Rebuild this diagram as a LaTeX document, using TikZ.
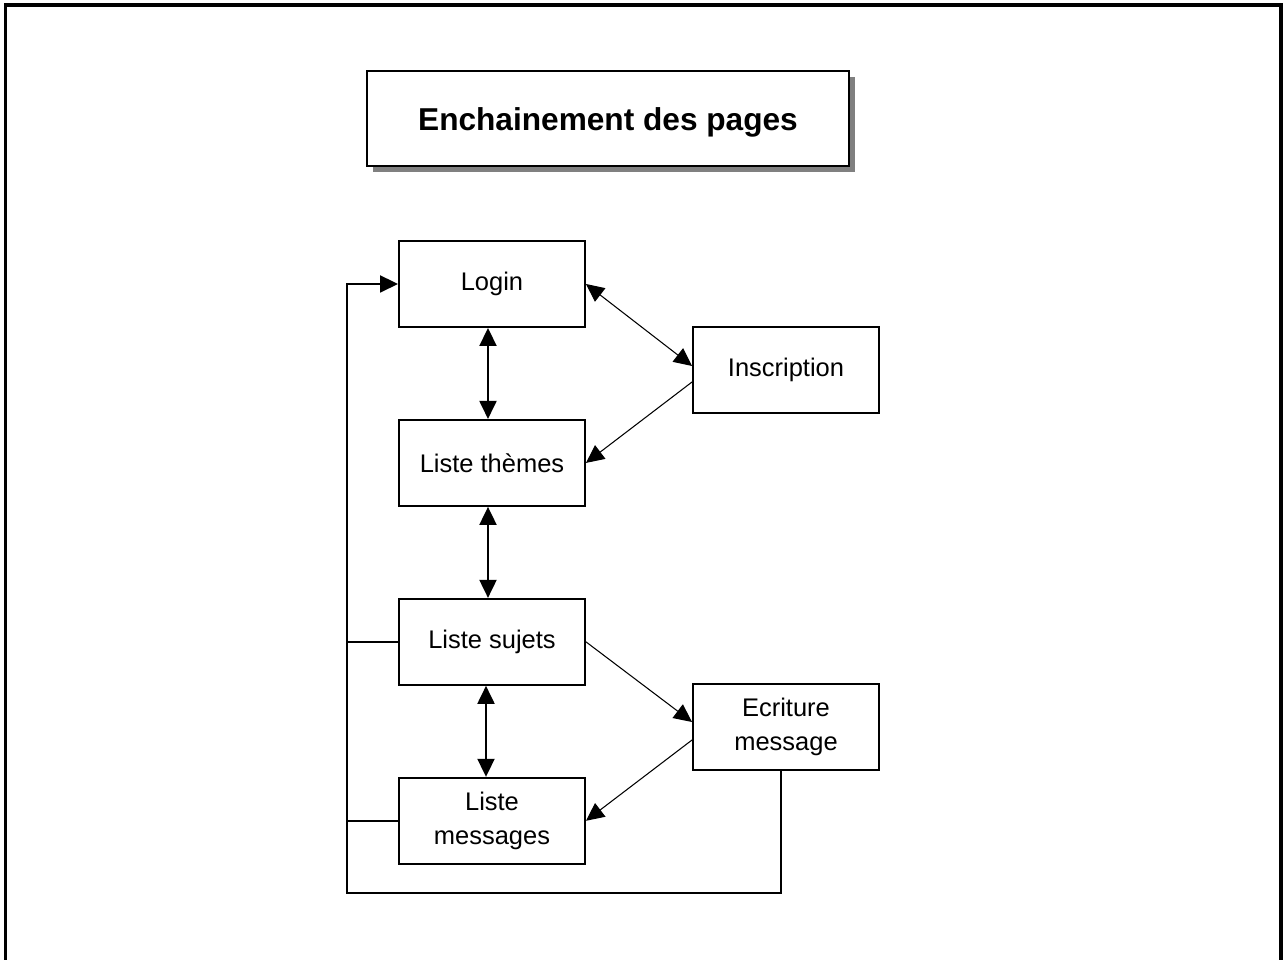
\documentclass[tikz,border=0pt]{standalone}
\usepackage{fontspec}
\setmainfont{Liberation Sans}
\usetikzlibrary{shadows,arrows.meta,shapes,positioning,calc}
\begin{document}
\begin{tikzpicture}
[node distance=1.82cm,
page/.style={shape=rectangle,draw=black,line width=1.1pt,minimum width=3.72cm,minimum height=1.72cm,align=center,font=\fontsize{14.5}{19.4}\selectfont},
titlebox/.style={shape=rectangle,draw=black,line width=1.1pt,fill=white,minimum width=9.64cm,minimum height=1.9cm,text height=0.5cm,text depth=0cm,font=\fontsize{18}{22}\selectfont\bfseries,drop shadow={shadow xshift=0.12cm,shadow yshift=-0.12cm,fill=black!50,opacity=1}},
myedge/.style={line width=1.1pt,{Triangle[length=0.36cm,width=0.34cm]}-{Triangle[length=0.36cm,width=0.34cm]}},
myarrow/.style={line width=0.6pt,-{Triangle[length=0.36cm,width=0.34cm]}},
myline/.style={line width=1.1pt}]
%%
\useasboundingbox (0,0) rectangle (25.68,19.2);
\draw[line width=1.8pt] (0.11,0) -- (0.11,19.1) -- (25.62,19.1) -- (25.62,0);
%%
\node (titre) [titlebox] at (12.16,16.83) {Enchainement des pages};
\node (login) [page] at (9.84,13.52) {Login};
\node (themes) [page,below=of login] {Liste thèmes};
\node (sujets) [page,below=of themes] {Liste sujets};
\node (messages) [page,below=of sujets] {Liste\\messages};
\node (inscr) [page] at (15.72,11.8) {Inscription};
\node (ecrit) [page] at (15.72,4.66) {Ecriture\\message};
%%
\draw[myedge] ([xshift=-0.08cm]login.south) -- ([xshift=-0.08cm]themes.north);
\draw[myedge] ([xshift=-0.08cm]themes.south) -- ([xshift=-0.08cm]sujets.north);
\draw[myedge] ([xshift=-0.12cm]sujets.south) -- ([xshift=-0.12cm]messages.north);
\draw[line width=0.6pt,{Triangle[length=0.36cm,width=0.34cm]}-{Triangle[length=0.36cm,width=0.34cm]}] (login.east) -- ([yshift=0.08cm]inscr.west);
\draw[myarrow] ([yshift=-0.24cm]inscr.west) -- (themes.east);
\draw[myarrow] (sujets.east) -- ([yshift=0.1cm]ecrit.west);
\draw[myarrow] ([yshift=-0.26cm]ecrit.west) -- (messages.east);
%% retour vers login
\coordinate (coin) at (6.94,1.34);
\draw[myline,-{Triangle[length=0.36cm,width=0.34cm]}] ([xshift=-0.1cm]ecrit.south) |- (coin) |- (login.west);
\draw[myline] (sujets.west) -- (sujets.west -| coin);
\draw[myline] (messages.west) -- (messages.west -| coin);
%%
\end{tikzpicture}
\end{document}
